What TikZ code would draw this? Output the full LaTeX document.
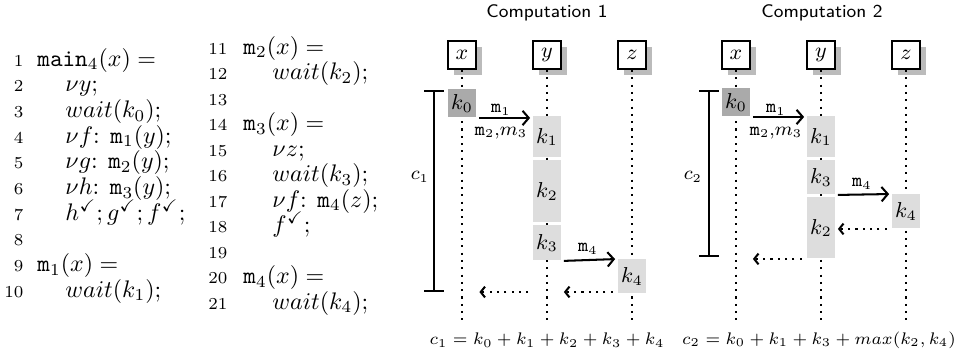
\documentclass[tikz,border=0pt]{standalone}
\usepackage{amsmath,amssymb}
\usetikzlibrary{arrows.meta}
\definecolor{darkact}{HTML}{AAAAAA}
\definecolor{lightact}{HTML}{DDDDDD}
\definecolor{shadowgray}{HTML}{BBBBBB}
\begin{document}
\begin{tikzpicture}[x=0.4175pt,y=-0.4175pt,
  code/.style={anchor=base west, inner sep=0pt, font=\fontsize{10}{12}\selectfont},
  lnum/.style={anchor=base east, inner sep=0pt, font=\scriptsize},
  dfont/.style={font=\fontsize{7.7}{9}\selectfont},
  title/.style={inner sep=0pt, font=\fontsize{7.6}{9}\selectfont\sffamily},
  head/.style={draw, line width=0.85pt, fill=white, minimum width=11.69pt, minimum height=11.69pt, inner sep=0pt, font=\fontsize{9.4}{10}\selectfont},
  shadowbox/.style={fill=shadowgray, minimum width=11.69pt, minimum height=11.69pt, inner sep=0pt},
  life/.style={line width=0.85pt, dash pattern=on 0.85pt off 2.2pt},
  actbox/.style={fill=lightact, minimum width=11.69pt, inner sep=0pt, anchor=north, font=\fontsize{8.6}{10}\selectfont},
  msg/.style={line width=0.85pt, -{Straight Barb[length=2.6pt,width=6pt]}, shorten <=1pt, shorten >=1pt},
  ret/.style={line width=0.85pt, dash pattern=on 0.85pt off 2.2pt, -{Straight Barb[length=1.8pt,width=4.5pt]}, shorten <=2pt, shorten >=1pt},
  bracket/.style={line width=0.85pt, {Bar[width=8pt]}-{Bar[width=8pt]}},
  lbl/.style={inner sep=0pt, dfont},
  formula/.style={inner sep=0pt, font=\fontsize{7.35}{9}\selectfont}
]
\useasboundingbox (0,0) rectangle (958,353);

% ---------------- code column 1 ----------------
\node[lnum] (n1) at (24,66) {1};
\node[code] (l1) at (37,66) {$\mathtt{main}_4(x) =$};
\node[lnum] (n2) at (24,91.7) {2};
\node[code] (l2) at (65,91.7) {$\nu y;$};
\node[lnum] (n3) at (24,117.4) {3};
\node[code] (l3) at (65,117.4) {$wait(k_0);$};
\node[lnum] (n4) at (24,143.1) {4};
\node[code] (l4) at (65,143.1) {$\nu f$: $\mathtt{m}_1(y);$};
\node[lnum] (n5) at (24,168.8) {5};
\node[code] (l5) at (65,168.8) {$\nu g$: $\mathtt{m}_2(y);$};
\node[lnum] (n6) at (24,194.5) {6};
\node[code] (l6) at (65,194.5) {$\nu h$: $\mathtt{m}_3(y);$};
\node[lnum] (n7) at (24,220.2) {7};
\node[code] (l7) at (65,220.2) {$h^{\checkmark}{;}\,g^{\checkmark}{;}\,f^{\checkmark}{;}$};
\node[lnum] (n8) at (24,245.9) {8};
\node[lnum] (n9) at (24,271.6) {9};
\node[code] (l9) at (37,271.6) {$\mathtt{m}_1(x) =$};
\node[lnum] (n10) at (24,297.3) {10};
\node[code] (l10) at (65,297.3) {$wait(k_1);$};

% ---------------- code column 2 ----------------
\node[lnum] (n11) at (228,54) {11};
\node[code] (l11) at (243,54) {$\mathtt{m}_2(x) =$};
\node[lnum] (n12) at (228,79.5) {12};
\node[code] (l12) at (272,79.5) {$wait(k_2);$};
\node[lnum] (n13) at (228,105) {13};
\node[lnum] (n14) at (228,130.5) {14};
\node[code] (l14) at (243,130.5) {$\mathtt{m}_3(x) =$};
\node[lnum] (n15) at (228,156) {15};
\node[code] (l15) at (272,156) {$\nu z;$};
\node[lnum] (n16) at (228,181.5) {16};
\node[code] (l16) at (272,181.5) {$wait(k_3);$};
\node[lnum] (n17) at (228,207) {17};
\node[code] (l17) at (272,207) {$\nu f$: $\mathtt{m}_4(z);$};
\node[lnum] (n18) at (228,232.5) {18};
\node[code] (l18) at (272,232.5) {$f^{\checkmark}{;}$};
\node[lnum] (n19) at (228,258) {19};
\node[lnum] (n20) at (228,283.5) {20};
\node[code] (l20) at (243,283.5) {$\mathtt{m}_4(x) =$};
\node[lnum] (n21) at (228,309) {21};
\node[code] (l21) at (272,309) {$wait(k_4);$};

% ---------------- Computation 1 ----------------
\node[title] (t1) at (547,13) {Computation 1};
\foreach \n/\xx in {ax/462, ay/547, az/632} {
  \node[shadowbox] (s\n) at (\xx+6,61) {};
}
\node[head] (hax) at (462,55) {$x$};
\node[head] (hay) at (547,55) {$y$};
\node[head] (haz) at (632,55) {$z$};
\coordinate (eax) at (462,323);
\coordinate (eay) at (547,323);
\coordinate (eaz) at (632,323);
\draw[life] (hax.south) -- (eax);
\draw[life] (hay.south) -- (eay);
\draw[life] (haz.south) -- (eaz);

\node[actbox, fill=darkact, minimum height={28*0.4175pt}] (k0a) at (462,89) {$k_0$};
\node[actbox, minimum height={41*0.4175pt}] (k1a) at (547,116) {$k_1$};
\node[actbox, minimum height={62*0.4175pt}] (k2a) at (547,160) {$k_2$};
\node[actbox, minimum height={35*0.4175pt}] (k3a) at (547,225) {$k_3$};
\node[actbox, minimum height={34*0.4175pt}] (k4a) at (632,259) {$k_4$};

\draw[msg] (k0a.south east) -- (k0a.south east -| k1a.west);
\node[lbl] (m1a) at (501,110) {$\mathtt{m}_1$};
\node[lbl] (m23a) at (501,133) {$\mathtt{m}_2$,$m_3$};
\draw[msg] (k3a.south east) -- (k4a.north west);
\node[lbl] (m4a) at (588,249) {$\mathtt{m}_4$};

\coordinate (ra1) at (533,292);
\coordinate (ra2) at (477,292);
\draw[ret] (k4a.south west |- ra1) -- (k3a.east |- ra1);
\draw[ret] (ra1) -- (ra2);

\coordinate (c1t) at (434,90);
\coordinate (c1b) at (434,292);
\draw[bracket] (c1t) -- (c1b);
\node[lbl] (c1l) at (420,177) {$c_1$};

\node[formula] (f1) at (547,340) {$c_1 = k_0 + k_1 + k_2 + k_3 + k_4$};

% ---------------- Computation 2 ----------------
\node[title] (t2) at (822,13) {Computation 2};
\foreach \n/\xx in {bx/736, by/821, bz/906} {
  \node[shadowbox] (s\n) at (\xx+6,61) {};
}
\node[head] (hbx) at (736,55) {$x$};
\node[head] (hby) at (821,55) {$y$};
\node[head] (hbz) at (906,55) {$z$};
\coordinate (ebx) at (736,323);
\coordinate (eby) at (821,323);
\coordinate (ebz) at (906,323);
\draw[life] (hbx.south) -- (ebx);
\draw[life] (hby.south) -- (eby);
\draw[life] (hbz.south) -- (ebz);

\node[actbox, fill=darkact, minimum height={28*0.4175pt}] (k0b) at (736,88) {$k_0$};
\node[actbox, minimum height={41*0.4175pt}] (k1b) at (821,116) {$k_1$};
\node[actbox, minimum height={34*0.4175pt}] (k3b) at (821,160) {$k_3$};
\node[actbox, minimum height={61*0.4175pt}] (k2b) at (821,197) {$k_2$};
\node[actbox, minimum height={34*0.4175pt}] (k4b) at (906,194) {$k_4$};

\draw[msg] (k0b.south east) -- (k0b.south east -| k1b.west);
\node[lbl] (m1b) at (776,110) {$\mathtt{m}_1$};
\node[lbl] (m23b) at (776,133) {$\mathtt{m}_2$,$m_3$};
\draw[msg] (k3b.south east) -- (k4b.north west);
\node[lbl] (m4b) at (862,184) {$\mathtt{m}_4$};

\draw[ret] (k4b.south west) -- (k4b.south west -| k2b.east);
\draw[ret] (k2b.south west) -- (k2b.south west -| k0b.east);

\coordinate (c2t) at (709,90);
\coordinate (c2b) at (709,257);
\draw[bracket] (c2t) -- (c2b);
\node[lbl] (c2l) at (693,177) {$c_2$};

\node[formula] (f2) at (819,340) {$c_2 = k_0 + k_1 + k_3 + max(k_2, k_4)$};
\end{tikzpicture}
\end{document}
